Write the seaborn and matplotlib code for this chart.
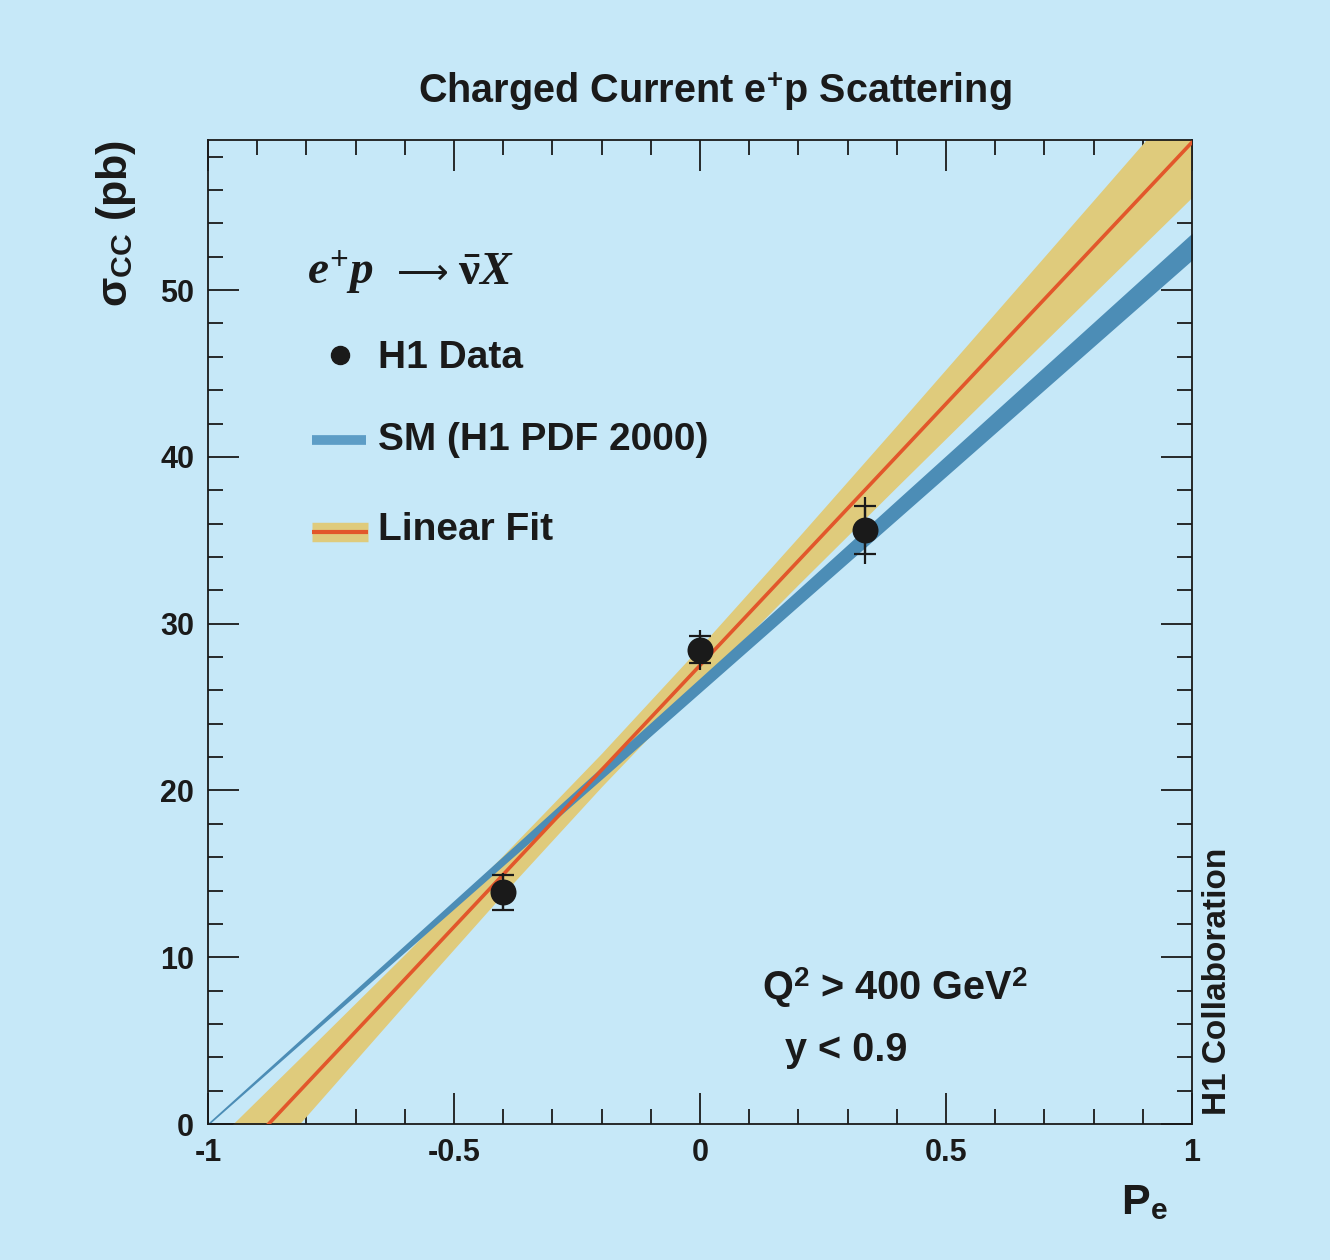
import matplotlib
matplotlib.use("Agg")
import matplotlib.pyplot as plt
from matplotlib.ticker import MultipleLocator
import seaborn as sns
import pandas as pd

# measured points (polarisation, cross section, stat and total errors)
pol = [-0.40, 0.0, 0.335]
sigma = [13.9, 28.45, 35.6]
stat_err = [1.05, 0.8, 1.45]
tot_err = [1.15, 1.2, 2.0]

# curves on a coarse grid in P
grid = [-1.0, -0.8, -0.6, -0.4, -0.2, 0.0, 0.2, 0.4, 0.6, 0.8, 1.0]
sm_lo = [0.0, 5.19, 10.37, 15.56, 20.74, 25.93, 31.12, 36.30, 41.49, 46.68, 51.86]
sm_hi = [0.0, 5.33, 10.67, 16.00, 21.34, 26.67, 32.00, 37.34, 42.67, 48.00, 53.34]
fit_mid = [-3.86, 2.41, 8.68, 14.96, 21.23, 27.50, 33.77, 40.04, 46.32, 52.59, 58.86]
fit_lo = [-6.26, 0.48, 7.18, 13.80, 20.23, 26.39, 32.35, 38.20, 44.01, 49.79, 55.56]
fit_hi = [-1.46, 4.34, 10.18, 16.12, 22.23, 28.61, 35.19, 41.88, 48.63, 55.39, 62.16]

BG = "#c6e8f8"
SM_COL = "#4c8db6"
FIT_BAND = "#dfcb7c"
FIT_LINE = "#e2572b"
INK = "#1a1a1a"

sns.set_theme(style="ticks")
plt.rcParams["font.family"] = ["Liberation Sans", "DejaVu Sans"]
plt.rcParams["font.weight"] = "bold"
plt.rcParams["mathtext.fontset"] = "custom"
plt.rcParams["mathtext.rm"] = "Liberation Serif:bold"
plt.rcParams["mathtext.it"] = "Liberation Serif:bold:italic"
plt.rcParams["mathtext.sf"] = "Liberation Sans:bold"
plt.rcParams["mathtext.tt"] = "Liberation Sans"

fig = plt.figure(figsize=(13.3, 12.6), dpi=100, facecolor=BG)
ax = fig.add_axes([0.1564, 0.1079, 0.7398, 0.7810])
ax.set_facecolor(BG)

curves = pd.DataFrame({"P": grid, "fit": fit_mid})

ax.fill_between(grid, fit_lo, fit_hi, color=FIT_BAND, lw=0, zorder=1)
ax.fill_between(grid, sm_lo, sm_hi, color=SM_COL, lw=1.2, edgecolor=SM_COL, zorder=2)
sns.lineplot(data=curves, x="P", y="fit", color=FIT_LINE, lw=2.6, ax=ax, zorder=3)

ax.errorbar(pol, sigma, yerr=tot_err, fmt="none", ecolor=INK, elinewidth=1.6, zorder=4)
ax.errorbar(pol, sigma, yerr=stat_err, fmt="none", ecolor=INK, elinewidth=1.6,
            capsize=8, capthick=1.6, zorder=4)
sns.scatterplot(x=pol, y=sigma, color=INK, s=300, edgecolor=INK, ax=ax, zorder=5)

ax.set_xlim(-1, 1)
ax.set_ylim(0, 59)
ax.xaxis.set_major_locator(MultipleLocator(0.5))
ax.xaxis.set_minor_locator(MultipleLocator(0.1))
ax.yaxis.set_major_locator(MultipleLocator(10))
ax.yaxis.set_minor_locator(MultipleLocator(2))
ax.set_xticks([-1, -0.5, 0, 0.5, 1])
ax.set_xticklabels(["-1", "-0.5", "0", "0.5", "1"])
ax.tick_params(which="both", direction="in", top=True, right=True, colors=INK,
               labelsize=22, width=1.3, pad=10)
ax.tick_params(which="major", length=22)
ax.tick_params(which="minor", length=11)
for s in ax.spines.values():
    s.set_linewidth(1.3)
    s.set_color(INK)

ax.set_xlabel("")
ax.set_ylabel(r"$\mathtt{\sigma}_{\mathsf{CC}}$ (pb)", fontsize=31, loc="top", color=INK,
              labelpad=16, fontweight="bold")
fig.text(715 / 1330, 1 - 92 / 1260, r"Charged Current e$^{\mathsf{+}}$p Scattering",
         fontsize=28.5, color=INK, ha="center", va="center")
fig.text(1168 / 1330, 1 - 1203 / 1260, r"P$_{\mathsf{e}}$", fontsize=31, color=INK,
         ha="right", va="center")

# legend drawn by hand, like the original
fig.text(307 / 1330, 1 - 272 / 1260, r"$e^{+}p$", fontsize=34, color=INK, va="center")
fig.text(397 / 1330, 1 - 274 / 1260, "\u27f6", fontsize=26, color=INK, va="center",
         family=["DejaVu Sans"], fontweight="normal")
fig.text(458 / 1330, 1 - 272 / 1260, r"$\bar{\mathrm{\nu}}X$", fontsize=34, color=INK,
         va="center")
lx = lambda px: (px - 208) / 984 * 2 - 1
ly = lambda py: (1124 - py) / 984 * 59
ax.plot([lx(340)], [ly(355)], "o", color=INK, ms=13, clip_on=False)
ax.plot([lx(312), lx(366)], [ly(440), ly(440)], color="#5d9dc6", lw=7, solid_capstyle="butt")
ax.plot([lx(312), lx(368)], [ly(532), ly(532)], color=FIT_BAND, lw=14, solid_capstyle="butt")
ax.plot([lx(312), lx(368)], [ly(532), ly(532)], color=FIT_LINE, lw=3, solid_capstyle="butt")
for py, label in [(358, "H1 Data"), (440, "SM (H1 PDF 2000)"), (530, "Linear Fit")]:
    fig.text(378 / 1330, 1 - py / 1260, label, fontsize=28, color=INK, va="center")

fig.text(762 / 1330, 1 - 988 / 1260, r"Q$^{\mathsf{2}}$ > 400 GeV$^{\mathsf{2}}$",
         fontsize=28.5, color=INK, va="center")
fig.text(785 / 1330, 1 - 1050 / 1260, "y < 0.9", fontsize=28.5, color=INK, va="center")
fig.text(1217 / 1330, 1 - 1115 / 1260, "H1 Collaboration", fontsize=24, color=INK,
         rotation=90, ha="center", va="bottom")

fig.savefig("out.png", dpi=100, facecolor=BG)
